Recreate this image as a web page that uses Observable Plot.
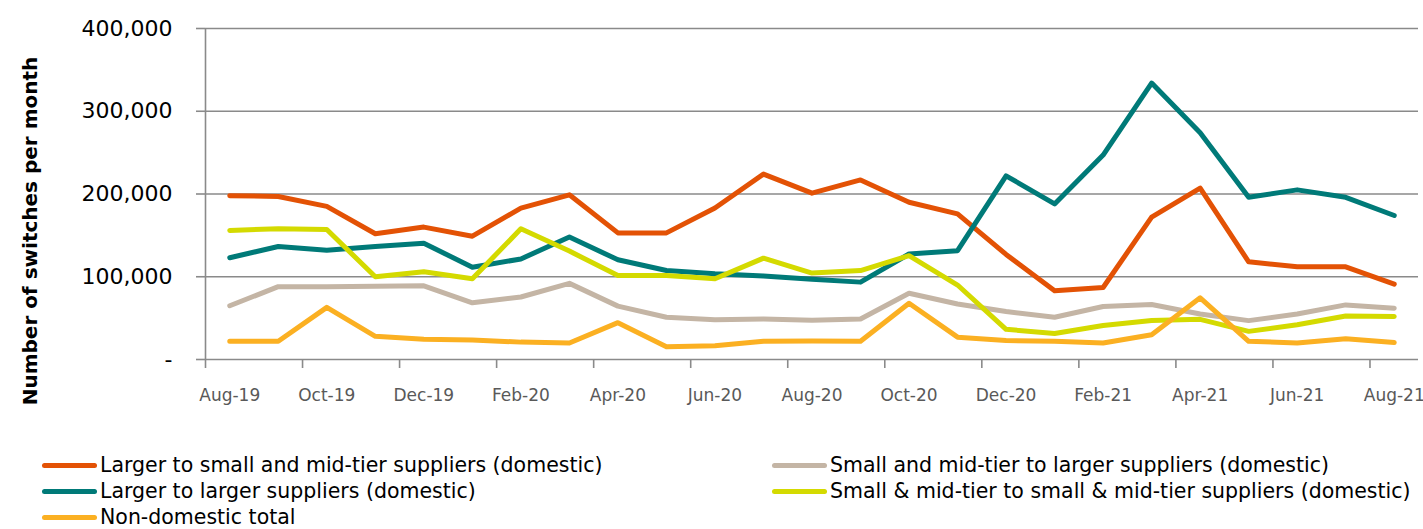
<!DOCTYPE html>
<html>
<head>
<meta charset="utf-8">
<script src="https://cdn.jsdelivr.net/npm/d3@7"></script>
<script src="https://cdn.jsdelivr.net/npm/@observablehq/plot@0.6"></script>
<style>
  body { margin: 0; background: white; font-family: "DejaVu Sans", sans-serif; }
  #wrap { position: relative; width: 1423px; height: 529px; }
  .leg { position: absolute; display: flex; align-items: center; font-size: 20.5px; color: #000; white-space: nowrap; }
  .sw { width: 55px; height: 5px; border-radius: 3px; margin-right: 3px; }
</style>
</head>
<body>
<div id="wrap"><div id="chart"></div></div>
<script>
const months = ["Aug-19","Sep-19","Oct-19","Nov-19","Dec-19","Jan-20","Feb-20","Mar-20","Apr-20","May-20","Jun-20","Jul-20","Aug-20","Sep-20","Oct-20","Nov-20","Dec-20","Jan-21","Feb-21","Mar-21","Apr-21","May-21","Jun-21","Jul-21","Aug-21"];

const seriesNames = [
  "Larger to small and mid-tier suppliers (domestic)",
  "Small and mid-tier to larger suppliers (domestic)",
  "Larger to larger suppliers (domestic)",
  "Small & mid-tier to small & mid-tier suppliers (domestic)",
  "Non-domestic total"
];
const seriesColors = ["#E35205", "#C4B5A5", "#007A78", "#D4DA00", "#FBB022"];

const largerToSmall = [198000,197000,185000,152000,160000,149000,183000,199000,153000,153000,183000,224000,201000,217000,190000,176000,127000,83000,87000,172000,207000,118000,112000,112000,91000];
const smallToLarger = [65000,88000,88000,88500,89000,68500,75500,92000,64500,51000,48000,49000,47500,49000,80000,67000,58000,51000,64000,66500,55000,47000,55000,66000,62000];
const largerToLarger = [123000,136500,132000,136500,140500,111500,121500,148000,120500,107500,103500,101000,97000,93500,127500,131500,222000,188000,247000,334000,274000,196000,205000,196000,174000];
const smallToSmall = [156000,158000,157000,100000,106000,97500,158000,131000,101500,101500,97500,122500,104500,107500,125500,90000,36500,31500,41000,47000,48500,34000,42000,52500,52000];
const nonDomestic = [22000,22000,63000,28000,24500,23500,21000,20000,44500,15500,16500,22000,22500,22000,68000,27000,23000,22000,20000,30000,74500,22000,20000,25000,20500];

const seriesValues = [largerToSmall, smallToLarger, largerToLarger, smallToSmall, nonDomestic];
const yTicks = [0, 100000, 200000, 300000, 400000];
const yLabel = "Number of switches per month";

const rows = [];
seriesValues.forEach((vals, s) => vals.forEach((v, i) => rows.push({series: seriesNames[s], i, v})));

const grid = "#8a8a8a";
const fmt = d3.format(",");

const plot = Plot.plot({
  width: 1423,
  height: 420,
  marginLeft: 205,
  marginRight: 5,
  marginTop: 28,
  marginBottom: 61,
  style: {fontFamily: "DejaVu Sans, sans-serif", background: "white", overflow: "visible"},
  x: {type: "linear", domain: [0, 25]},
  y: {domain: [0, 400000]},
  color: {domain: seriesNames, range: seriesColors},
  marks: [
    Plot.ruleY(yTicks, {stroke: grid, strokeWidth: 1.6}),
    Plot.ruleX([0], {stroke: grid, strokeWidth: 1.6}),
    Plot.axisY({ticks: yTicks, tickSize: 9, tickPadding: 24, stroke: grid, strokeWidth: 1.6, fill: "#000", fontSize: 22,
      tickFormat: d => d === 0 ? "-" : fmt(d), label: null}),
    Plot.axisX({ticks: d3.range(0, 25, 2), tickSize: 9, stroke: grid, strokeWidth: 1.6, tickFormat: () => "", label: null}),
    Plot.axisX({ticks: d3.range(0, 25, 2).map(i => i + 0.5), tickSize: 0, tickPadding: 29, fill: "#595959", fontSize: 17,
      tickFormat: d => months[Math.round(d - 0.5)], label: null}),
    Plot.line(rows, {x: d => d.i + 0.5, y: "v", z: "series", stroke: "series", strokeWidth: 5,
      strokeLinejoin: "round", strokeLinecap: "round"}),
    Plot.text([yLabel], {frameAnchor: "left", dx: -175, dy: 37, rotate: -90, textAnchor: "middle", lineAnchor: "middle",
      fontWeight: "bold", fontSize: 20, fill: "#000"})
  ]
});
document.getElementById("chart").appendChild(plot);

const legendPos = [
  {left: 42, top: 465},
  {left: 772, top: 465},
  {left: 42, top: 491},
  {left: 772, top: 491},
  {left: 42, top: 517}
];
const wrap = document.getElementById("wrap");
seriesNames.forEach((name, s) => {
  const el = document.createElement("div");
  el.className = "leg";
  el.style.left = legendPos[s].left + "px";
  el.style.top = (legendPos[s].top - 12) + "px";
  el.style.height = "24px";
  const sw = document.createElement("div");
  sw.className = "sw";
  sw.style.background = seriesColors[s];
  const tx = document.createElement("span");
  tx.textContent = name;
  el.appendChild(sw);
  el.appendChild(tx);
  wrap.appendChild(el);
});
</script>
</body>
</html>
